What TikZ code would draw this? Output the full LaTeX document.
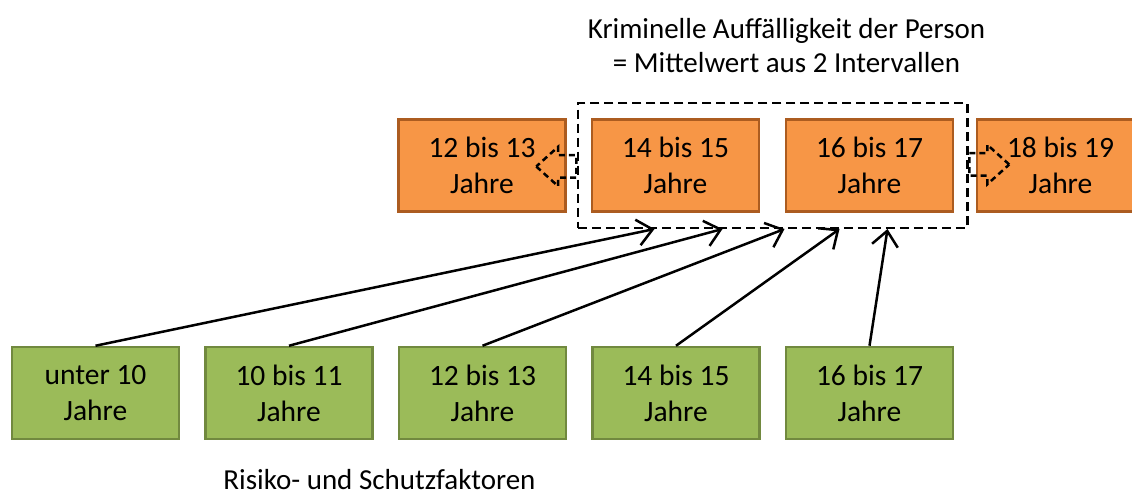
\documentclass[tikz,border=0pt]{standalone}
\usepackage{fontspec}
\setmainfont{Carlito}
\usetikzlibrary{positioning, arrows.meta, calc, fit, shapes.arrows}
\definecolor{ageFill}{RGB}{247,150,70}
\definecolor{ageLine}{RGB}{172,92,32}
\definecolor{factFill}{RGB}{155,187,89}
\definecolor{factLine}{RGB}{113,137,63}
\tikzset{
    agebox/.style={
        draw=ageLine, fill=ageFill, line width=2.5pt,
        minimum width=167pt, minimum height=92pt, inner sep=0pt,
        align=center, font=\fontsize{29.5}{36}\selectfont
    },
    factbox/.style={agebox, draw=factLine, fill=factFill},
    caption/.style={align=center, inner sep=0pt, font=\fontsize{29}{34}\selectfont},
    window/.style={draw=black, dashed, dash pattern=on 9pt off 5pt, line width=2.5pt,
        inner xsep=13pt, inner ysep=15pt},
    shiftarrow/.style={
        single arrow, draw=black, dashed, dash pattern=on 6pt off 4pt, line width=2.5pt,
        inner xsep=0pt, inner ysep=10pt, single arrow head extend=8.5pt,
        single arrow tip angle=84, minimum height=40pt
    },
    link/.style={-{Straight Barb[length=15pt, width=26pt]}, line width=2.5pt, draw=black}
}
\begin{document}
\begin{tikzpicture}[x=1pt, y=-1pt]
    \useasboundingbox (0,0) rectangle (1132,497);
    % interval of the person
    \node[agebox] (O1) at (482,165.5)  {12 bis 13\\Jahre};
    \node[agebox] (O2) at (675.5,165.5) {14 bis 15\\Jahre};
    \node[agebox] (O3) at (869.5,165.5) {16 bis 17\\Jahre};
    \node[agebox] (O4) at (1060.5,165.5) {18 bis 19\\Jahre};
    \node[window, fit=(O2) (O3)] (W) {};
    \node[shiftarrow, shape border rotate=180] (SL) at (562.5,166.5) {};
    \node[shiftarrow] (SR) at (983,164.5) {};
    \node[caption] (T) at (786.5,46) {Kriminelle Auffälligkeit der Person\\= Mittelwert aus 2 Intervallen};
    % factors
    \node[factbox] (G1) at (95.5,393)  {unter 10\\Jahre};
    \node[factbox] (G2) at (289,393)   {10 bis 11\\Jahre};
    \node[factbox] (G3) at (482.5,393) {12 bis 13\\Jahre};
    \node[factbox] (G4) at (676,393)   {14 bis 15\\Jahre};
    \node[factbox] (G5) at (869.5,393) {16 bis 17\\Jahre};
    \node[caption, anchor=base, text depth=0pt] (B) at (379.5,489) {Risiko- und Schutzfaktoren};
    \coordinate (E1) at ($(W.south west)+(78,0)$);
    \coordinate (E2) at ($(W.south west)+(146,0)$);
    \coordinate (E3) at ($(W.south west)+(208,0)$);
    \coordinate (E4) at ($(W.south west)+(263,0)$);
    \coordinate (E5) at ($(W.south west)+(311,0)$);
    \draw[link] (G1.north) -- (E1);
    \draw[link] (G2.north) -- (E2);
    \draw[link] (G3.north) -- (E3);
    \draw[link] (G4.north) -- (E4);
    \draw[link] (G5.north) -- (E5);
\end{tikzpicture}
\end{document}
